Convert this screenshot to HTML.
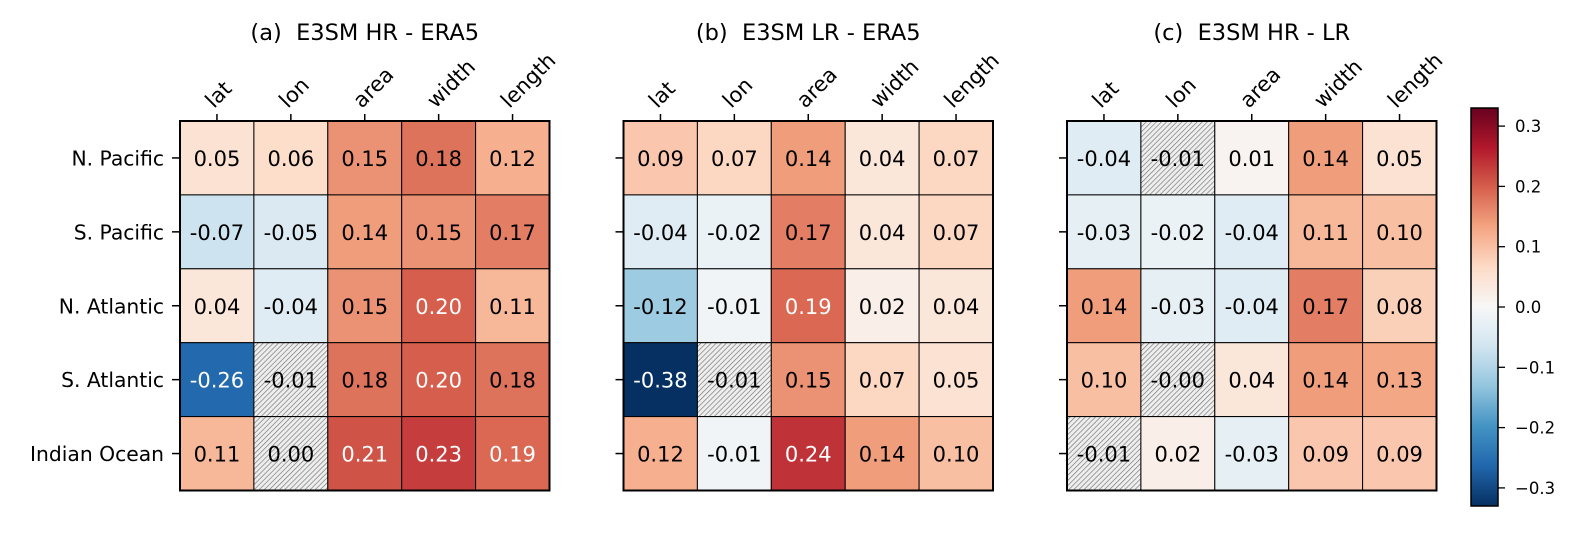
<!DOCTYPE html>
<html><head><meta charset="utf-8"><style>
html,body{margin:0;padding:0;background:#fff;}
svg{display:block;font-family:"DejaVu Sans","Liberation Sans",sans-serif;}
</style></head><body>
<svg id="chart" width="1571" height="534" viewBox="0 0 1571 534" xmlns="http://www.w3.org/2000/svg">
<defs>
<pattern id="hatch" patternUnits="userSpaceOnUse" width="3.6" height="3.6" patternTransform="rotate(45)">
<rect width="3.6" height="3.6" fill="#eeeeee"/>
<line x1="0" y1="0" x2="0" y2="3.6" stroke="#6a6a6a" stroke-width="1.2"/>
</pattern>
<linearGradient id="cbgrad" x1="0" y1="1" x2="0" y2="0"></linearGradient>
</defs>
<g id="root"></g>
</svg>
<script>
const columns = ["lat","lon","area","width","length"];
const rows = ["N. Pacific","S. Pacific","N. Atlantic","S. Atlantic","Indian Ocean"];
const titles = ["(a)\u00a0\u00a0E3SM HR - ERA5","(b)\u00a0\u00a0E3SM LR - ERA5","(c)\u00a0\u00a0E3SM HR - LR"];
const valuesA = [[0.05,0.06,0.15,0.18,0.12],[-0.07,-0.05,0.14,0.15,0.17],[0.04,-0.04,0.15,0.20,0.11],[-0.26,-0.01,0.18,0.20,0.18],[0.11,0.00,0.21,0.23,0.19]];
const valuesB = [[0.09,0.07,0.14,0.04,0.07],[-0.04,-0.02,0.17,0.04,0.07],[-0.12,-0.01,0.19,0.02,0.04],[-0.38,-0.01,0.15,0.07,0.05],[0.12,-0.01,0.24,0.14,0.10]];
const valuesC = [[-0.04,-0.01,0.01,0.14,0.05],[-0.03,-0.02,-0.04,0.11,0.10],[0.14,-0.03,-0.04,0.17,0.08],[0.10,-0.00,0.04,0.14,0.13],[-0.01,0.02,-0.03,0.09,0.09]];
const labelsC = [["-0.04","-0.01","0.01","0.14","0.05"],["-0.03","-0.02","-0.04","0.11","0.10"],["0.14","-0.03","-0.04","0.17","0.08"],["0.10","-0.00","0.04","0.14","0.13"],["-0.01","0.02","-0.03","0.09","0.09"]];
const hatchA = [[3,1],[4,1]];
const hatchB = [[3,1]];
const hatchC = [[0,1],[3,1],[4,0]];
const cbTicks = [0.3,0.2,0.1,0.0,-0.1,-0.2,-0.3];
const vmax = 0.33;

const NS="http://www.w3.org/2000/svg";
const root=document.getElementById('root');
function mk(tag,attrs,parent){const e=document.createElementNS(NS,tag);for(const k in attrs)e.setAttribute(k,attrs[k]);(parent||root).appendChild(e);return e;}
const stops=["#053061","#2166ac","#4393c3","#92c5de","#d1e5f0","#f7f7f7","#fddbc7","#f4a582","#d6604d","#b2182b","#67001f"];
function hex(h){return [1,3,5].map(i=>parseInt(h.substr(i,2),16));}
function cmap(v){let t=(v+vmax)/(2*vmax);t=Math.max(0,Math.min(1,t));const p=t*10;const i=Math.min(9,Math.floor(p));const f=p-i;const a=hex(stops[i]),b=hex(stops[i+1]);return 'rgb('+a.map((x,j)=>Math.round(x+(b[j]-x)*f)).join(',')+')';}

const cell=73.9, gridTop=121;
const panelX=[180,623.5,1067];
const panels=[[valuesA,hatchA,null],[valuesB,hatchB,null],[valuesC,hatchC,labelsC]];
const xScale=(p,j)=>panelX[p]+j*cell;
const yScale=i=>gridTop+i*cell;
const yCb=v=>307-v*603;

panels.forEach((pd,p)=>{
  const [vals,hatch,labs]=pd;
  const g=mk('g',{});
  
  
  const t=mk('text',{x:panelX[p]+cell*2.5,y:40,'text-anchor':'middle','font-size':22.5,fill:'#000'},g);
  t.textContent=titles[p];
  
  
  vals.forEach((row,i)=>row.forEach((v,j)=>{
    const isH=hatch.some(h=>h[0]===i&&h[1]===j);
    const r=mk('rect',{x:xScale(p,j),y:yScale(i),width:cell,height:cell,fill:isH?'url(#hatch)':cmap(v),stroke:'#000','stroke-width':1},g);
    
    
    const txt=mk('text',{x:xScale(p,j)+cell/2,y:yScale(i)+cell/2+8,'text-anchor':'middle','font-size':21,fill:Math.abs(v)>=0.185?'#fff':'#000'},g);
    txt.textContent=labs?labs[i][j]:v.toFixed(2);
    
    
  }));
  mk('rect',{x:panelX[p],y:gridTop,width:cell*5,height:cell*5,fill:'none',stroke:'#000','stroke-width':2},g);
  columns.forEach((c,j)=>{
    const cx=xScale(p,j)+cell/2;
    mk('line',{x1:cx,y1:gridTop,x2:cx,y2:gridTop-7,stroke:'#000','stroke-width':1.5},g);
    const l=mk('text',{x:cx-3,y:gridTop-12,'font-size':21,fill:'#000',transform:'rotate(-45 '+(cx-3)+' '+(gridTop-12)+')'},g);
    l.textContent=c;
    
    
  });
  rows.forEach((r,i)=>{
    const cy=yScale(i)+cell/2;
    mk('line',{x1:panelX[p],y1:cy,x2:panelX[p]-8,y2:cy,stroke:'#000','stroke-width':1.5},g);
    if(p===0){
      const l=mk('text',{x:164,y:cy+7.5,'text-anchor':'end','font-size':20.3,fill:'#000'},g);
      l.textContent=r;
      
      
    }
  });
});

const grad=document.getElementById('cbgrad');
for(let k=0;k<=20;k++){const v=-vmax+k*(2*vmax/20);mk('stop',{offset:(k/20),'stop-color':cmap(v)},grad);}
const cb=mk('g',{});


mk('rect',{x:1471,y:yCb(vmax),width:27,height:yCb(-vmax)-yCb(vmax),fill:'url(#cbgrad)',stroke:'#000','stroke-width':1.5},cb);
cbTicks.forEach(v=>{
  const y=yCb(v);
  mk('line',{x1:1498,y1:y,x2:1505,y2:y,stroke:'#000','stroke-width':1.3},cb);
  const t=mk('text',{x:1515,y:y+6,'font-size':16.5,fill:'#000'},cb);
  t.textContent=(v<0?'\u2212':'')+Math.abs(v).toFixed(1);
  
  
});
</script>
</body></html>
